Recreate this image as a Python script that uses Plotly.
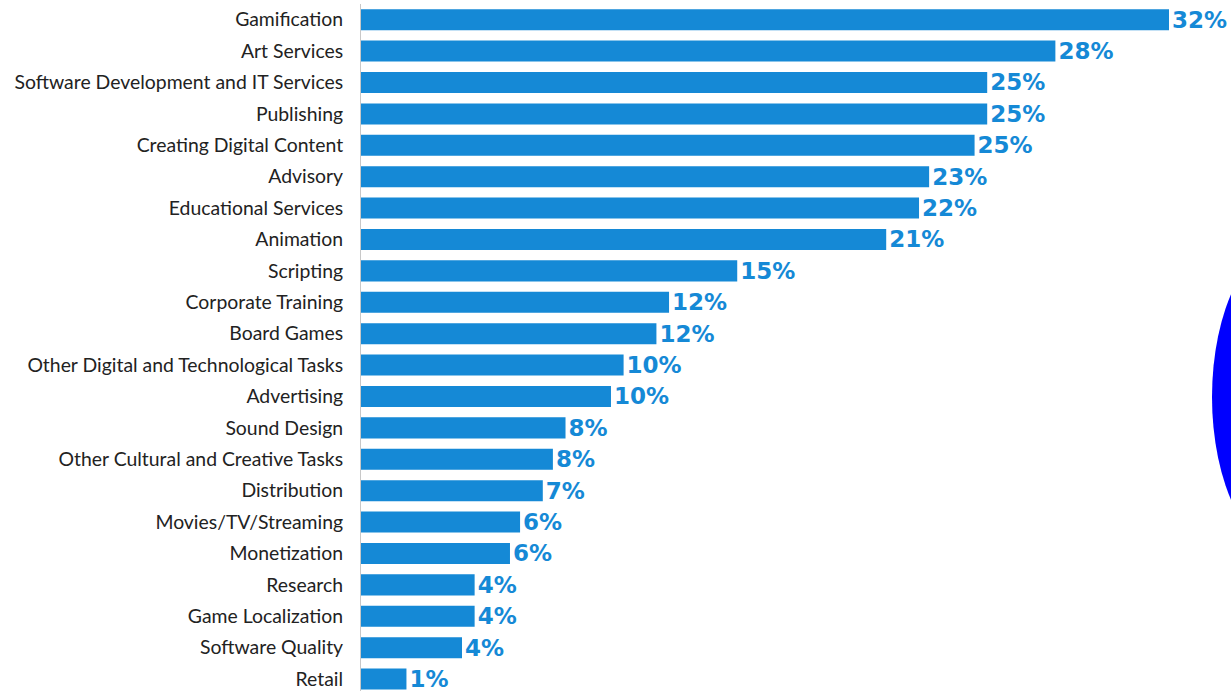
import plotly.graph_objects as go

categories = [
    "Gamification", "Art Services", "Software Development and IT Services",
    "Publishing", "Creating Digital Content", "Advisory", "Educational Services",
    "Animation", "Scripting", "Corporate Training", "Board Games",
    "Other Digital and Technological Tasks", "Advertising", "Sound Design",
    "Other Cultural and Creative Tasks", "Distribution", "Movies/TV/Streaming",
    "Monetization", "Research", "Game Localization", "Software Quality", "Retail",
]
values = [32.0, 27.5, 24.8, 24.8, 24.3, 22.5, 22.1, 20.8, 14.9, 12.2, 11.7,
          10.4, 9.9, 8.1, 7.6, 7.2, 6.3, 5.9, 4.5, 4.5, 4.0, 1.8]
labels = ["32%", "28%", "25%", "25%", "25%", "23%", "22%", "21%", "15%", "12%", "12%",
          "10%", "10%", "8%", "8%", "7%", "6%", "6%", "4%", "4%", "4%", "1%"]

blue = "#1589d6"
PX_PER_UNIT_X = 25.25
PLOT_W = 870
PLOT_H = 687

fig = go.Figure(go.Bar(
    x=values, y=categories, orientation="h",
    marker=dict(color=blue, line=dict(width=0)),
    text=labels, textposition="outside", constraintext="none",
    textfont=dict(family="DejaVu Sans", size=23, color=blue, weight="bold"),
    cliponaxis=False, hoverinfo="skip",
))

fig.add_shape(type="circle", xref="paper", yref="paper",
              x0=(1212 - 361) / PLOT_W, x1=(1372 - 361) / PLOT_W,
              y0=1 - (556 - 4) / PLOT_H, y1=1 - (238 - 4) / PLOT_H,
              fillcolor="#0000ff", line=dict(width=0), layer="above")

fig.update_layout(
    width=1231, height=691,
    margin=dict(l=361, r=0, t=4, b=0),
    paper_bgcolor="white", plot_bgcolor="white",
    bargap=0.33, showlegend=False,
    font=dict(family="Lato", size=19.4, color="#222222"),
    xaxis=dict(range=[0, PLOT_W / PX_PER_UNIT_X], visible=False, fixedrange=True),
    yaxis=dict(categoryorder="array", categoryarray=categories,
               range=[21.38, -0.5], showline=True, linecolor="#c8c8c8",
               linewidth=1, ticks="", showgrid=False, ticklabelstandoff=13,
               fixedrange=True,
               tickfont=dict(family="Lato", size=19.4, color="#222222")),
)

fig.write_html(
    "out.html",
    config={"displayModeBar": False},
    post_script="document.body.style.margin='0';"
                "document.documentElement.style.overflow='hidden';"
                "document.body.style.overflow='hidden';",
)
